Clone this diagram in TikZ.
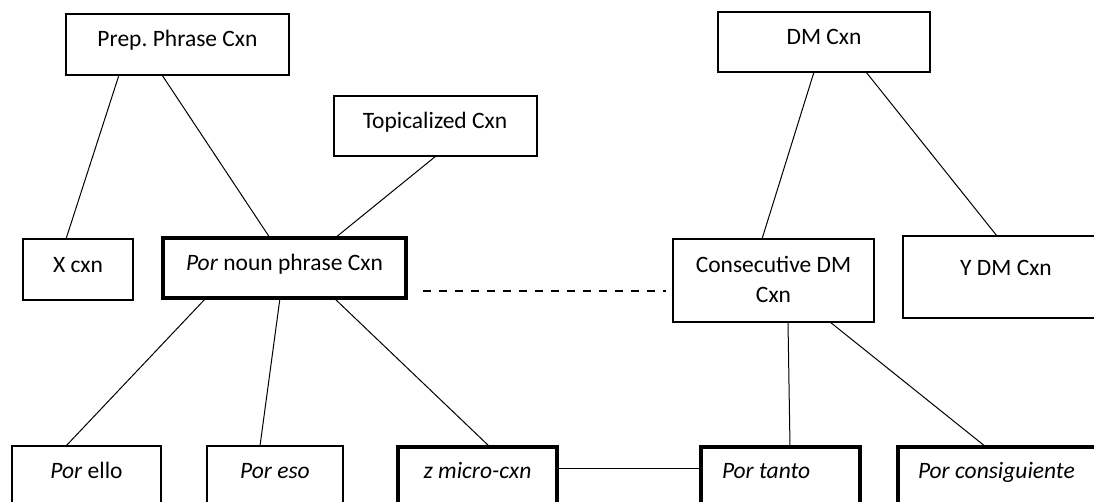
\documentclass[tikz,border=0pt]{standalone}
\usepackage{fontspec}
\setmainfont{Carlito}
\frenchspacing
\usetikzlibrary{calc}
\tikzset{
  box/.style={draw=black, line width=2pt, inner sep=0pt, outer sep=0pt, anchor=north west},
  thickbox/.style={box, line width=4pt},
  lbl/.style={inner sep=0pt, outer sep=0pt, anchor=base, font=\fontsize{23.5}{28}\selectfont},
  lbll/.style={lbl, anchor=base west},
  link/.style={draw=black, line width=1pt},
  dashlink/.style={draw=black, line width=1.3pt, dash pattern=on 8pt off 8pt}
}
\begin{document}
\begin{tikzpicture}[x=1pt,y=-1pt]
\useasboundingbox (0,0) rectangle (1094,502);
\clip (0,0) rectangle (1094,502);
% boxes: top-left corner, width, height
\node[box, minimum width=223pt, minimum height=61pt] (prep) at (66,14) {};
\node[box, minimum width=203pt, minimum height=60pt] (topic) at (334,96) {};
\node[box, minimum width=212pt, minimum height=60pt] (dm) at (718,12) {};
\node[box, minimum width=110pt, minimum height=61pt] (xcxn) at (23,239) {};
\node[thickbox, minimum width=243pt, minimum height=60pt] (porn) at (163,238) {};
\node[box, minimum width=201pt, minimum height=83pt] (consec) at (673,239) {};
\node[box, minimum width=217pt, minimum height=82pt] (ydm) at (903,236) {};
\node[box, minimum width=149pt, minimum height=74pt] (porello) at (12,446) {};
\node[box, minimum width=136pt, minimum height=74pt] (poreso) at (207,446) {};
\node[thickbox, minimum width=159pt, minimum height=73pt] (zmicro) at (398,447) {};
\node[thickbox, minimum width=159pt, minimum height=73pt] (portanto) at (701,447) {};
\node[thickbox, minimum width=222pt, minimum height=73pt] (porcons) at (898,447) {};
% texts
\node[lbl] (prept) at (177.5,47) {Prep. Phrase Cxn};
\node[lbl] (topict) at (435,129) {Topicalized Cxn};
\node[lbl] (dmt) at (824,45) {DM Cxn};
\node[lbl] (xcxnt) at (78,273) {X cxn};
\node[lbl] (pornt) at (284.5,271) {\textit{Por} noun phrase Cxn};
\node[lbl] (consecta) at (773.5,273) {Consecutive DM};
\node[lbl] (consectb) at (773.5,303) {Cxn};
\node[lbl] (ydmt) at (1006,276) {Y DM Cxn};
\node[lbl] (porellot) at (86.5,478) {\textit{Por} ello};
\node[lbl] (poresot) at (275,478) {\textit{Por eso}};
\node[lbl] (zmicrot) at (477.5,478) {\textit{z micro-cxn}};
\node[lbll] (portantot) at (722,478) {\textit{Por tanto}};
\node[lbll] (porconst) at (918,478) {\textit{Por consiguiente}};
% connectors
\draw[link] ([xshift=53pt]prep.south west) -- ([xshift=43pt]xcxn.north west);
\draw[link] ([xshift=96pt]prep.south west) -- ([xshift=107pt]porn.north west);
\draw[link] ([xshift=102pt]topic.south west) -- ([xshift=172pt]porn.north west);
\draw[link] ([xshift=43pt]porn.south west) -- ([xshift=54pt]porello.north west);
\draw[link] ([xshift=117pt]porn.south west) -- ([xshift=53pt]poreso.north west);
\draw[link] ([xshift=171pt]porn.south west) -- ([xshift=92pt]zmicro.north west);
\draw[link] ([xshift=96pt]dm.south west) -- ([xshift=89pt]consec.north west);
\draw[link] ([xshift=148pt]dm.south west) -- ([xshift=94pt]ydm.north west);
\draw[link] ([xshift=115pt]consec.south west) -- ([xshift=89pt]portanto.north west);
\draw[link] ([xshift=157pt]consec.south west) -- ([xshift=88pt]porcons.north west);
\draw[link] ([yshift=15.5pt]zmicro.east) -- ([yshift=15.5pt]portanto.west);
\draw[dashlink] ([shift={(17pt,-23pt)}]porn.east) -- ([shift={(-7pt,-10.5pt)}]consec.west);
\end{tikzpicture}
\end{document}
